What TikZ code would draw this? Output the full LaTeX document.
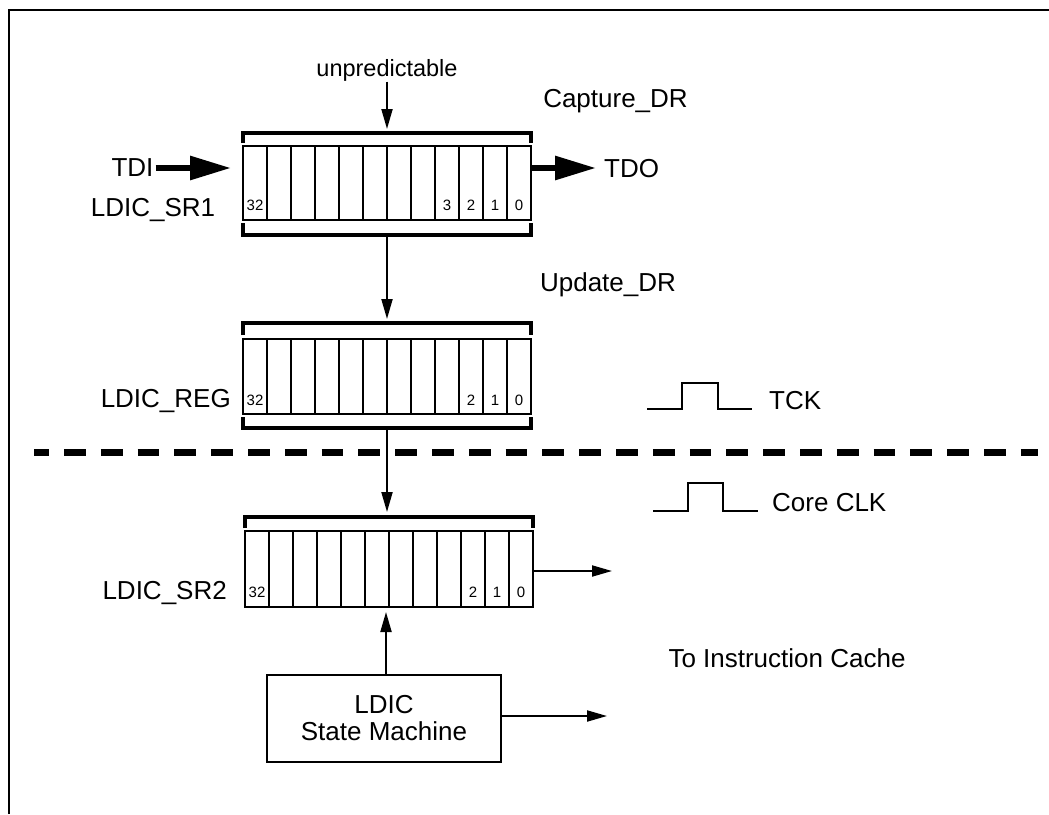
\documentclass[tikz,border=0pt]{standalone}
\usepackage{fontspec}
\setmainfont{Liberation Sans}
\usetikzlibrary{arrows.meta}
\begin{document}
\begin{tikzpicture}[x=1pt,y=-1pt,
  lbl/.style={inner sep=0pt, text depth=0pt, font=\fontsize{26}{27}\selectfont},
  num/.style={inner sep=0pt, text depth=0pt, font=\fontsize{15}{17}\selectfont},
  regbox/.style={draw, line width=2pt, minimum width=288pt, inner sep=0pt},
  cellline/.style={line width=2pt},
  bracket/.style={line width=3.5pt},
  thinarrow/.style={line width=2pt, -{Triangle[length=20pt,width=11pt]}},
  thickarrow/.style={line width=6pt, -{Triangle[length=41pt,width=23pt]}},
  wave/.style={line width=2pt},
]
\useasboundingbox (0,0) rectangle (1049,814);
% frame
\draw[line width=2.2pt] (9,814) -- (9,10) -- (1049,10);

% ---------- LDIC_SR1 ----------
\node[regbox, minimum height=74pt] (sr1) at (387,183) {};
\foreach \i in {1,...,11} \draw[cellline] (243+24*\i,146) -- (243+24*\i,220);
\foreach \i/\t in {1/32,9/3,10/2,11/1,12/0}
  \node[num] (sra\i) at (243+24*\i-12,205) {\t};
\draw[bracket] (243,143) -- (243,133) -- (531,133) -- (531,143);
\draw[bracket] (243,223) -- (243,235) -- (531,235) -- (531,223);
\coordinate (sr1tb) at (387,129);
\coordinate (sr1bb) at (387,235);

% ---------- LDIC_REG ----------
\node[regbox, minimum height=75pt] (reg) at (387,376.5) {};
\foreach \i in {1,...,11} \draw[cellline] (243+24*\i,339) -- (243+24*\i,414);
\foreach \i/\t in {1/32,10/2,11/1,12/0}
  \node[num] (rga\i) at (243+24*\i-12,400) {\t};
\draw[bracket] (243,335) -- (243,323) -- (531,323) -- (531,335);
\draw[bracket] (243,417) -- (243,428) -- (531,428) -- (531,417);
\coordinate (regtb) at (387,319);
\coordinate (regbb) at (387,428);

% ---------- LDIC_SR2 ----------
\node[regbox, minimum height=76pt] (sr2) at (389,568.7) {};
\foreach \i in {1,...,11} \draw[cellline] (245+24*\i,530.7) -- (245+24*\i,606.7);
\foreach \i/\t in {1/32,10/2,11/1,12/0}
  \node[num] (srb\i) at (245+24*\i-12,592) {\t};
\draw[bracket] (245,528) -- (245,517) -- (533,517) -- (533,528);
\coordinate (sr2tb) at (387,512);
\coordinate (sr2bot) at (386,612);
\coordinate (out1) at (612,571);
\coordinate (out2) at (607,716);

% ---------- state machine ----------
\node[draw, line width=2.2pt, minimum width=234pt, minimum height=87pt, inner sep=0pt,
      align=center, font=\fontsize{26}{27}\selectfont] (sm) at (384,718.5) {LDIC\\State Machine};

% ---------- labels ----------
\node[lbl, font=\fontsize{23.5}{25}\selectfont] (unp) at (387,68) {unpredictable};
\node[lbl] (cap) at (615.5,98) {Capture\_DR};
\node[lbl] (tdi) at (132.5,168) {TDI};
\node[lbl, anchor=west] (tdo) at (604,168) {TDO};
\node[lbl] (lsr1) at (153,207) {LDIC\_SR1};
\node[lbl] (upd) at (608,282) {Update\_DR};
\node[lbl, anchor=east] (lreg) at (231,398) {LDIC\_REG};
\node[lbl, anchor=west] (tck) at (769,400) {TCK};
\node[lbl, anchor=west] (cclk) at (772,502) {Core CLK};
\node[lbl, anchor=east] (lsr2) at (227,590) {LDIC\_SR2};
\node[lbl] (cache) at (787,658) {To Instruction Cache};

% ---------- connectors ----------
\draw[thinarrow, shorten <=5pt] (unp.south) -- (sr1tb);
\draw[thinarrow] (sr1bb) -- (regtb);
\draw[thinarrow] (regbb) -- (sr2tb);
\draw[thinarrow] (sm.north -| sr2bot) -- (sr2bot);
\draw[thinarrow] (sr2.east |- out1) -- (out1);
\draw[thinarrow] (sm.east |- out2) -- (out2);
\draw[thickarrow, shorten <=2pt, shorten >=11pt] (tdi.east) -- (sr1.west |- tdi.east);
\draw[thickarrow, shorten >=8pt] (sr1.east |- tdo.west) -- (tdo.west);

% ---------- clocks ----------
\draw[wave] (647,409) -- (682,409) -- (682,383) -- (718,383) -- (718,409) -- (752,409);
\draw[wave] (653,511) -- (688,511) -- (688,483) -- (723,483) -- (723,511) -- (758,511);

% ---------- domain separator ----------
\draw[line width=7pt, dash pattern=on 21.8pt off 15pt, dash phase=6.8pt] (34,452) -- (1038,452);
\end{tikzpicture}
\end{document}
